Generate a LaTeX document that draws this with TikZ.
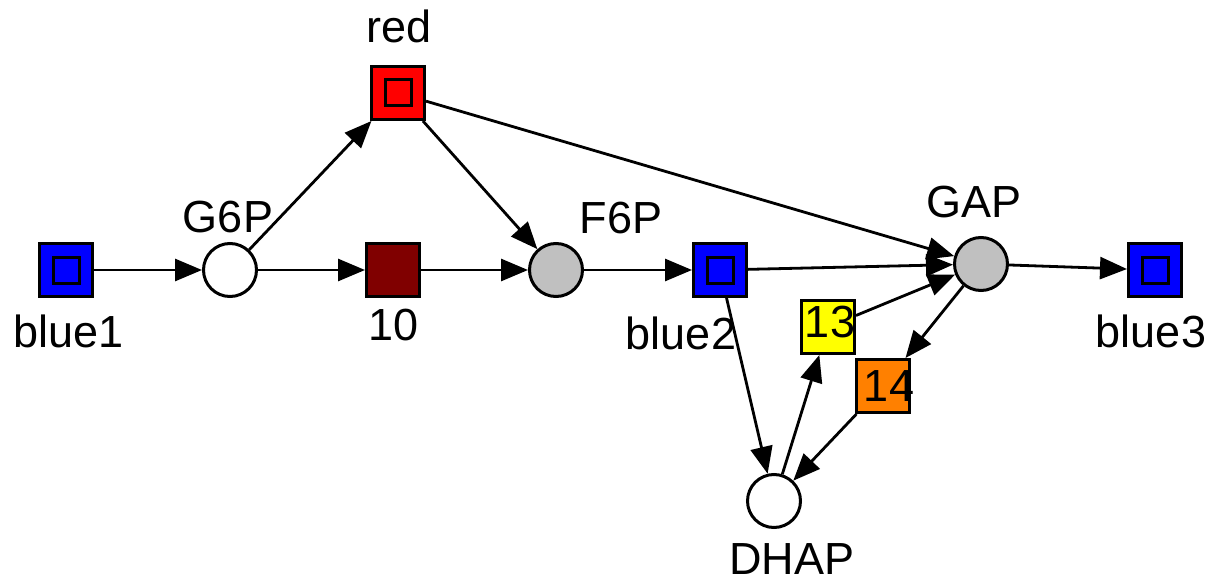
\documentclass[tikz,border=0pt]{standalone}
\usepackage{fontspec}
\setmainfont{Liberation Sans}
\usetikzlibrary{arrows.meta}
\definecolor{pblue}{RGB}{0,0,255}
\definecolor{pred}{RGB}{255,0,0}
\definecolor{pdark}{RGB}{128,0,0}
\definecolor{pgray}{RGB}{192,192,192}
\definecolor{pyellow}{RGB}{255,255,0}
\definecolor{porange}{RGB}{255,128,0}
\begin{document}
\begin{tikzpicture}[x=1pt,y=-1pt,
  place/.style={circle,draw,line width=3pt,minimum size=53pt,inner sep=0pt,fill=white},
  trans/.style={rectangle,draw,line width=3pt,minimum size=53pt,inner sep=0pt},
  subbox/.style={rectangle,draw,line width=3pt,minimum size=26pt,inner sep=0pt},
  lbl/.style={font=\fontsize{45}{50}\selectfont,inner sep=0pt},
  arc/.style={-{Triangle[length=27pt,width=22pt]},line width=2.8pt}]
\useasboundingbox (0,0) rectangle (1211,583);

% places
\node[place] (G6P) at (230,270) {};
\node[place,fill=pgray] (F6P) at (556,270) {};
\node[place,fill=pgray] (GAP) at (981,264) {};
\node[place] (DHAP) at (774,501) {};

% transitions
\node[trans,fill=pblue] (blue1) at (66,270) {};
\node[subbox,fill=pblue] (blue1i) at (blue1) {};
\node[trans,fill=pred] (red) at (398,93) {};
\node[subbox,fill=pred] (redi) at (red) {};
\node[trans,fill=pdark] (t10) at (393,270) {};
\node[trans,fill=pblue] (blue2) at (720,270) {};
\node[subbox,fill=pblue] (blue2i) at (blue2) {};
\node[trans,fill=pblue] (blue3) at (1155,270) {};
\node[subbox,fill=pblue] (blue3i) at (blue3) {};
\node[trans,fill=pyellow] (t13) at (828,327) {};
\node[trans,fill=porange] (t14) at (883,386) {};

% labels
\node[lbl] (lblue1) at (69,331) {blue1};
\node[lbl] (lG6P) at (228,217) {G6P};
\node[lbl] (lred) at (399,26) {red};
\node[lbl] (l10) at (394,325) {10};
\node[lbl] (lF6P) at (621,218) {F6P};
\node[lbl] (lblue2) at (681,333) {blue2};
\node[lbl] (lGAP) at (974,202) {GAP};
\node[lbl] (lblue3) at (1151,331) {blue3};
\node[lbl] (lDHAP) at (792,559) {DHAP};
\node[lbl] (l13) at (830,322) {13};
\node[lbl] (l14) at (889,386) {14};

% arcs
\draw[arc] (blue1) -- (G6P);
\draw[arc] (G6P) -- (red);
\draw[arc] (G6P) -- (t10);
\draw[arc] (t10) -- (F6P);
\draw[arc] (red) -- (F6P);
\draw[arc] (red) -- (GAP);
\draw[arc] (F6P) -- (blue2);
\draw[arc] (blue2) -- (GAP);
\draw[arc] (blue2) -- (DHAP);
\draw[arc] (DHAP) -- (t13);
\draw[arc] (t13) -- (GAP);
\draw[arc] (GAP) -- (t14);
\draw[arc] (t14) -- (DHAP);
\draw[arc] (GAP) -- (blue3);
\end{tikzpicture}
\end{document}
